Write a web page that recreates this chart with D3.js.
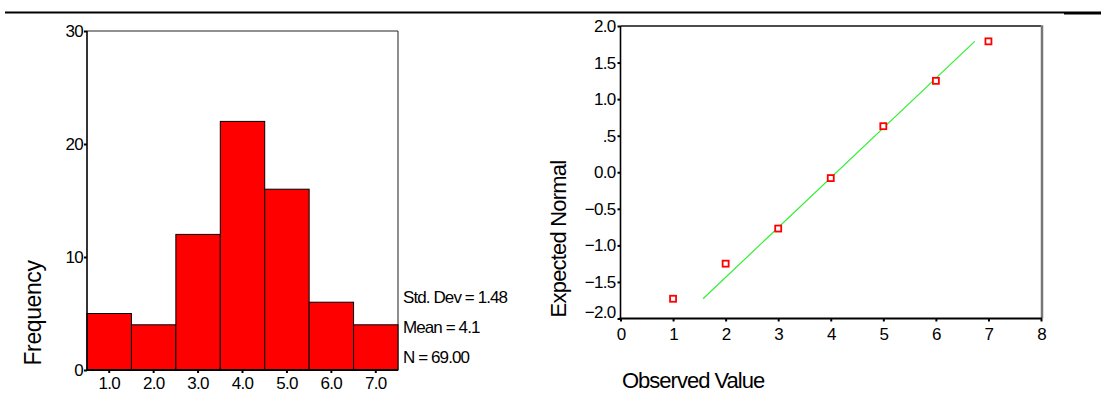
<!DOCTYPE html>
<html>
<head>
<meta charset="utf-8">
<script src="https://cdn.jsdelivr.net/npm/d3@7"></script>
<style>
  html, body { margin: 0; padding: 0; background: #fff; }
  svg text { font-family: "Liberation Sans", Arial, sans-serif; fill: #000; }
</style>
</head>
<body>
<svg id="chart" width="1101" height="394"></svg>
<script>
// ── 데이터 ────────────────────────────────────────────────
const binLabels  = ["1.0", "2.0", "3.0", "4.0", "5.0", "6.0", "7.0"];
const binCounts  = [5, 4, 12, 22, 16, 6, 4];
const freqTicks  = [0, 10, 20, 30];
const statLines  = ["Std. Dev = 1.48", "Mean = 4.1", "N = 69.00"];

const obsValues  = [1, 2, 3, 4, 5, 6, 7];
const expNormal  = [-1.73, -1.25, -0.77, -0.08, 0.63, 1.25, 1.79];
const fitLineX   = [1.57, 6.74];
const fitLineY   = [-1.73, 1.79];
const obsTicks   = [0, 1, 2, 3, 4, 5, 6, 7, 8];
const normTicks  = [-2, -1.5, -1, -0.5, 0, 0.5, 1, 1.5, 2];

const svg = d3.select("#chart");

// ── 상단 구분선 ───────────────────────────────────────────
svg.append("line").attr("x1", 5).attr("x2", 1064).attr("y1", 12.5).attr("y2", 12.5)
    .attr("stroke", "#000").attr("stroke-width", 1.8);
svg.append("line").attr("x1", 1064).attr("x2", 1101).attr("y1", 13).attr("y2", 13)
    .attr("stroke", "#000").attr("stroke-width", 3);

// ── 공통: 축 스타일 ───────────────────────────────────────
function styleAxis(sel, fontSize, ls) {
    sel.select(".domain").remove();
    sel.selectAll(".tick line").attr("stroke", "#000").attr("stroke-width", 2);
    sel.selectAll(".tick text")
        .style("font-size", fontSize + "px")
        .style("letter-spacing", ls + "px")
        .attr("fill", "#000");
}

// ============================================================
//  왼쪽: 히스토그램
// ============================================================
const hx = d3.scaleBand().domain(binLabels).range([87, 398]).padding(0);
const hy = d3.scaleLinear().domain([0, 30]).range([370, 31]);

const hg = svg.append("g");

// 프레임 (위, 오른쪽)
hg.append("line").attr("x1", hx.range()[0]).attr("x2", hx.range()[1])
    .attr("y1", hy(30)).attr("y2", hy(30)).attr("stroke", "#222").attr("stroke-width", 1);
hg.append("line").attr("x1", hx.range()[1]).attr("x2", hx.range()[1])
    .attr("y1", hy(30)).attr("y2", hy(0)).attr("stroke", "#444").attr("stroke-width", 1.2);

// 막대
hg.selectAll("rect.bar")
    .data(binLabels.map((l, i) => ({ label: l, count: binCounts[i] })))
    .enter().append("rect")
    .attr("class", "bar")
    .attr("x", d => hx(d.label))
    .attr("y", d => hy(d.count))
    .attr("width", hx.bandwidth())
    .attr("height", d => hy(0) - hy(d.count))
    .attr("fill", "#ff0000")
    .attr("stroke", "#000")
    .attr("stroke-width", 1);

// 축선
hg.append("line").attr("x1", hx.range()[0]).attr("x2", hx.range()[0])
    .attr("y1", hy(30)).attr("y2", hy(0) + 1).attr("stroke", "#000").attr("stroke-width", 1.6);
hg.append("line").attr("x1", hx.range()[0] - 1).attr("x2", hx.range()[1])
    .attr("y1", hy(0)).attr("y2", hy(0)).attr("stroke", "#000").attr("stroke-width", 2);

// 축 (아래 라벨은 그림 가장자리에 붙어 있어 여백을 줄임)
hg.append("g").attr("transform", `translate(0,${hy(0)})`)
    .call(d3.axisBottom(hx).tickSizeInner(3).tickSizeOuter(0).tickPadding(4))
    .call(s => styleAxis(s, 17, -0.7));
hg.append("g").attr("transform", `translate(${hx.range()[0]},0)`)
    .call(d3.axisLeft(hy).tickValues(freqTicks).tickSizeInner(3).tickSizeOuter(0).tickPadding(1).tickFormat(d3.format("d")))
    .call(s => styleAxis(s, 17, -0.7));

// 통계 텍스트
hg.selectAll("text.stat")
    .data(statLines).enter().append("text")
    .attr("class", "stat")
    .attr("x", 403)
    .attr("y", (d, i) => 303 + i * 30)
    .style("font-size", "17px")
    .style("letter-spacing", "-0.9px")
    .text(d => d);

// Y 제목
hg.append("text")
    .attr("transform", "translate(41,313) rotate(-90)")
    .attr("text-anchor", "middle")
    .style("font-size", "23px")
    .style("letter-spacing", "-0.4px")
    .text("Frequency");

// ============================================================
//  오른쪽: 정규 Q-Q 플롯
// ============================================================
const qx = d3.scaleLinear().domain([0, 8]).range([620.5, 1041]);
const qy = d3.scaleLinear().domain([-2, 2]).range([318.5, 26]);

const qg = svg.append("g");

// 프레임
qg.append("line").attr("x1", qx(0)).attr("x2", qx(8)).attr("y1", qy(2)).attr("y2", qy(2))
    .attr("stroke", "#111").attr("stroke-width", 1.5);
qg.append("line").attr("x1", qx(8) + 1).attr("x2", qx(8) + 1).attr("y1", qy(2) - 0.7).attr("y2", qy(-2))
    .attr("stroke", "#777").attr("stroke-width", 2.5);

// 축선
qg.append("line").attr("x1", qx(0)).attr("x2", qx(0)).attr("y1", qy(2)).attr("y2", qy(-2) + 1)
    .attr("stroke", "#000").attr("stroke-width", 1.6);
qg.append("line").attr("x1", qx(0) - 1).attr("x2", qx(8) + 1).attr("y1", qy(-2)).attr("y2", qy(-2))
    .attr("stroke", "#000").attr("stroke-width", 2);

// 적합선
qg.append("line")
    .attr("x1", qx(fitLineX[0])).attr("y1", qy(fitLineY[0]))
    .attr("x2", qx(fitLineX[1])).attr("y2", qy(fitLineY[1]))
    .attr("stroke", "#33ee33").attr("stroke-width", 1.2);

// 점
qg.selectAll("rect.pt")
    .data(obsValues.map((v, i) => ({ x: v, y: expNormal[i] })))
    .enter().append("rect")
    .attr("class", "pt")
    .attr("x", d => qx(d.x) - 3)
    .attr("y", d => qy(d.y) - 3)
    .attr("width", 6).attr("height", 6)
    .attr("fill", "#fff")
    .attr("stroke", "#ff0000")
    .attr("stroke-width", 1.8);

// 축
const normFmt = d => {
    const s = d3.format(".1f")(d);
    return s.replace(/^(-?)0\.5$/, "$1.5");
};
qg.append("g").attr("transform", `translate(0,${qy(-2)})`)
    .call(d3.axisBottom(qx).tickValues(obsTicks).tickSizeInner(3).tickSizeOuter(0).tickPadding(6).tickFormat(d3.format("d")))
    .call(s => styleAxis(s, 17, -0.7));
const qyAxis = qg.append("g").attr("transform", `translate(${qx(0)},0)`)
    .call(d3.axisLeft(qy).tickValues(normTicks).tickSizeInner(3).tickSizeOuter(0).tickPadding(2).tickFormat(normFmt))
    .call(s => styleAxis(s, 17, -0.7));
// 맨 아래 라벨은 축선과 겹치지 않게 살짝 위로
qyAxis.selectAll(".tick text").filter(d => d === -2).attr("dy", "-0.05em");

// 제목
qg.append("text")
    .attr("x", 622).attr("y", 388)
    .style("font-size", "22px")
    .style("letter-spacing", "-1px")
    .text("Observed Value");
qg.append("text")
    .attr("transform", "translate(566,239) rotate(-90)")
    .attr("text-anchor", "middle")
    .style("font-size", "22px")
    .style("letter-spacing", "-0.8px")
    .text("Expected Normal");
</script>
</body>
</html>
